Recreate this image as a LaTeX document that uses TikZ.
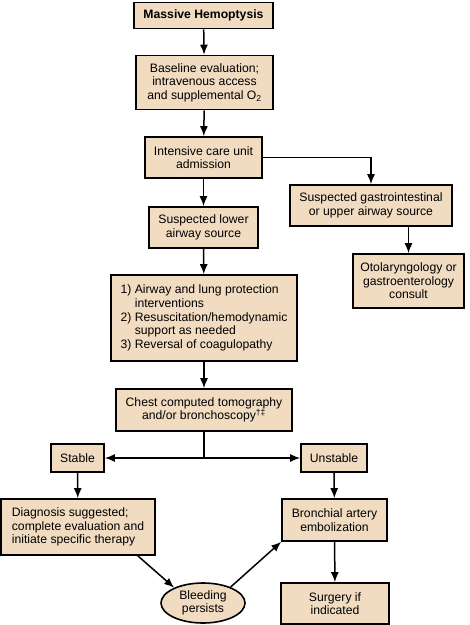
\documentclass[tikz,border=0pt]{standalone}
\usepackage{fontspec}
\setmainfont{Liberation Sans}
\usetikzlibrary{arrows.meta,shapes.geometric}
\definecolor{boxfill}{RGB}{241,220,194}
\newcommand{\ind}{\hphantom{1)\ }}
\begin{document}
\begin{tikzpicture}[x=1pt,y=-1pt,
  box/.style={draw, fill=boxfill, line width=1.6pt, align=center, inner sep=2pt,
    font=\fontsize{12.2}{13.6}\selectfont},
  arr/.style={-{Latex[length=10pt,width=8pt]}, line width=1.5pt},
  ln/.style={line width=1.5pt}]
\useasboundingbox (0,0) rectangle (470,625);
\node[box, minimum width=139pt, minimum height=26pt, font=\fontsize{12.2}{13.6}\selectfont\bfseries] (n1) at (203.5,15.5) {Massive Hemoptysis};
\node[box, minimum width=137pt, minimum height=54pt] (n2) at (204.5,82.5) {Baseline evaluation;\\intravenous access\\and supplemental O\textsubscript{2}};
\node[box, minimum width=117pt, minimum height=41pt] (n3) at (203.5,157.5) {Intensive care unit\\admission};
\node[box, minimum width=162pt, minimum height=41pt] (n4) at (371,205.5) {Suspected gastrointestinal\\or upper airway source};
\node[box, minimum width=109pt, minimum height=41pt] (n5) at (203.5,227.5) {Suspected lower\\airway source};
\node[box, minimum width=111pt, minimum height=54pt] (n6) at (408.5,281) {Otolaryngology or\\gastroenterology\\consult};
\node[box, minimum width=186pt, minimum height=86pt, align=left] (n7) at (204,318) {1)\ Airway and lung protection\\\ind interventions\\2)\ Resuscitation/hemodynamic\\\ind support as needed\\3)\ Reversal of coagulopathy};
\node[box, minimum width=176pt, minimum height=42pt] (n8) at (204,410) {Chest computed tomography\\and/or bronchoscopy\textsuperscript{†‡}};
\node[box, minimum width=53pt, minimum height=28pt] (st) at (77.5,458) {Stable};
\node[box, minimum width=66pt, minimum height=28pt] (un) at (334,458) {Unstable};
\node[box, minimum width=154pt, minimum height=56pt, align=left] (dg) at (78,527) {Diagnosis suggested;\\complete evaluation and\\initiate specific therapy};
\node[box, minimum width=105pt, minimum height=42pt] (br) at (334.5,520) {Bronchial artery\\embolization};
\node[box, ellipse, inner sep=0pt, minimum width=84pt, minimum height=40pt] (bl) at (203,603) {Bleeding\\persists};
\node[box, minimum width=108pt, minimum height=41pt] (sg) at (335,603.5) {Surgery if\\indicated};
\draw[arr] (n1) -- (n2);
\draw[arr] (n2) -- (n3);
\draw[arr] (n3.east) -| (n4.north);
\draw[arr] (n3) -- (n5);
\draw[arr] (n4.south -| n6.north) -- (n6.north);
\draw[arr] (n5) -- (n7);
\draw[arr] (n7) -- (n8);
\draw[ln] (n8.south) -- (n8.south |- st.east) coordinate (j);
\draw[arr] (j) -- (st.east);
\draw[arr] (j) -- (un.west);
\draw[arr] (st) -- (dg);
\draw[arr] (un) -- (br);
\draw[arr] ([xshift=-18pt]dg.south east) -- (bl.152);
\draw[arr] (bl.30) -- (br.south west);
\draw[arr] (br) -- (sg);
\end{tikzpicture}
\end{document}
